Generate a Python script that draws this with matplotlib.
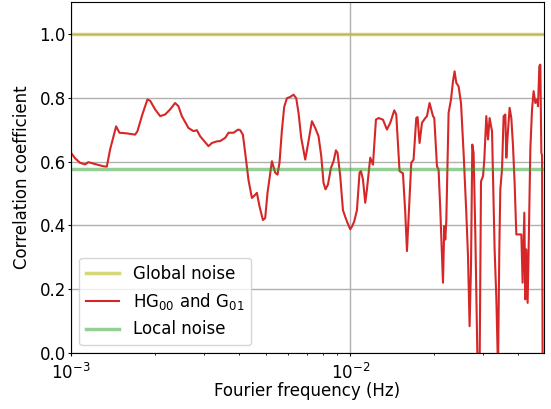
import matplotlib
matplotlib.use('Agg')
import matplotlib.pyplot as plt
import numpy as np

# Fourier frequency (mHz) and correlation coefficient of the HG00 / G01 pair
freq_mhz = [
    1.000, 1.034, 1.077, 1.123, 1.153, 1.219, 1.306, 1.343, 1.380, 1.415,
    1.450, 1.490, 1.584, 1.696, 1.729, 1.797, 1.877, 1.920, 2.000, 2.085,
    2.172, 2.264, 2.359, 2.424, 2.493, 2.633, 2.744, 2.822, 2.900, 3.106,
    3.195, 3.329, 3.421, 3.565, 3.664, 3.818, 3.969, 4.035, 4.125, 4.205,
    4.321, 4.444, 4.566, 4.631, 4.731, 4.866, 4.959, 5.054, 5.241, 5.386,
    5.489, 5.580, 5.692, 5.801, 5.932, 6.096, 6.264, 6.405, 6.528, 6.675,
    6.899, 7.054, 7.291, 7.492, 7.699, 7.873, 8.024, 8.157, 8.321, 8.529,
    8.714, 8.888, 9.006, 9.209, 9.417, 9.596, 9.780, 10.000, 10.166, 10.336,
    10.569, 10.798, 10.923, 11.105, 11.318, 11.478, 11.795, 12.061, 12.363, 12.631,
    13.098, 13.537, 13.911, 14.378, 14.617, 15.020, 15.448, 15.744, 15.967, 16.273,
    16.544, 16.861, 17.241, 17.427, 17.717, 18.072, 18.571, 18.833, 19.241, 19.789,
    20.002, 20.452, 20.724, 21.017, 21.314, 21.491, 21.723, 21.903, 22.085, 22.508,
    22.958, 23.340, 23.651, 23.984, 24.444, 24.933, 25.474, 26.048, 26.415, 26.767,
    27.078, 27.370, 27.665, 28.056, 28.594, 29.070, 29.408, 29.898, 30.220, 30.723,
    31.157, 31.571, 32.203, 32.901, 33.366, 33.837, 34.202, 34.485, 34.972, 35.437,
    35.938, 36.235, 36.626, 37.236, 37.762, 38.295, 38.804, 39.352, 40.673, 41.010,
    41.452, 42.038, 42.386, 42.737, 43.198, 43.556, 44.172, 44.796, 45.391, 46.031,
    46.683, 47.069, 47.577, 47.970, 48.369, 48.650, 48.891, 49.378,
]
corr_hg = [
    0.627, 0.610, 0.596, 0.591, 0.598, 0.592, 0.585, 0.584, 0.638, 0.675,
    0.710, 0.690, 0.688, 0.684, 0.695, 0.745, 0.794, 0.790, 0.763, 0.742,
    0.747, 0.763, 0.783, 0.773, 0.742, 0.705, 0.695, 0.698, 0.679, 0.648,
    0.658, 0.663, 0.664, 0.674, 0.690, 0.690, 0.700, 0.698, 0.684, 0.627,
    0.542, 0.486, 0.496, 0.502, 0.460, 0.417, 0.423, 0.502, 0.601, 0.565,
    0.559, 0.596, 0.698, 0.771, 0.798, 0.802, 0.809, 0.798, 0.752, 0.674,
    0.606, 0.653, 0.726, 0.705, 0.679, 0.617, 0.533, 0.513, 0.528, 0.580,
    0.601, 0.635, 0.627, 0.554, 0.448, 0.427, 0.408, 0.388, 0.398, 0.413,
    0.448, 0.565, 0.570, 0.544, 0.471, 0.513, 0.612, 0.590, 0.731, 0.736,
    0.731, 0.700, 0.721, 0.760, 0.747, 0.570, 0.563, 0.440, 0.320, 0.471,
    0.596, 0.606, 0.736, 0.739, 0.658, 0.721, 0.736, 0.742, 0.783, 0.742,
    0.736, 0.585, 0.575, 0.450, 0.309, 0.221, 0.398, 0.356, 0.413, 0.752,
    0.794, 0.851, 0.882, 0.846, 0.835, 0.783, 0.627, 0.440, 0.304, 0.085,
    0.273, 0.653, 0.627, 0.377, -0.050, -0.050, 0.538, 0.554, 0.606, 0.742,
    0.669, 0.736, 0.695, 0.325, 0.174, -0.050, 0.325, 0.513, 0.575, 0.742,
    0.747, 0.612, 0.679, 0.768, 0.736, 0.648, 0.533, 0.372, 0.372, 0.372,
    0.221, 0.440, 0.169, 0.325, 0.158, 0.325, 0.638, 0.763, 0.820, 0.783,
    0.794, 0.773, 0.898, 0.903, 0.627, 0.620, -0.050, -0.050,
]

global_noise = 1.0
local_noise = 0.577

freq = np.array(freq_mhz) * 1e-3

plt.rcParams['font.size'] = 12

fig = plt.figure(figsize=(5.51, 4.09), dpi=100)
ax = fig.add_subplot(111)
fig.subplots_adjust(left=0.129, right=0.987, top=0.996, bottom=0.136)

ax.axhline(global_noise, color='tab:olive', alpha=0.6, linewidth=2.5, label='Global noise')
ax.plot(freq, corr_hg, color='tab:red', linewidth=1.5, label='HG$_{00}$ and G$_{01}$')
ax.axhline(local_noise, color='tab:green', alpha=0.5, linewidth=2.5, label='Local noise')

ax.set_xscale('log')
ax.set_xlim(1e-3, freq[-1])
ax.set_ylim(0, 1.1)
ax.set_yticks([0.0, 0.2, 0.4, 0.6, 0.8, 1.0])
ax.grid(True, which='major', color='#b0b0b0', linewidth=1.0)
ax.tick_params(axis='x', which='major', length=2.5, pad=4.5)
ax.tick_params(axis='x', which='minor', length=1.5)
ax.tick_params(axis='y', length=2.5, pad=1.3)

ax.set_xlabel('Fourier frequency (Hz)', labelpad=-1)
ax.set_ylabel('Correlation coefficient', labelpad=5.8)
ax.legend(loc='lower left')

fig.savefig('out.png', dpi=100)
